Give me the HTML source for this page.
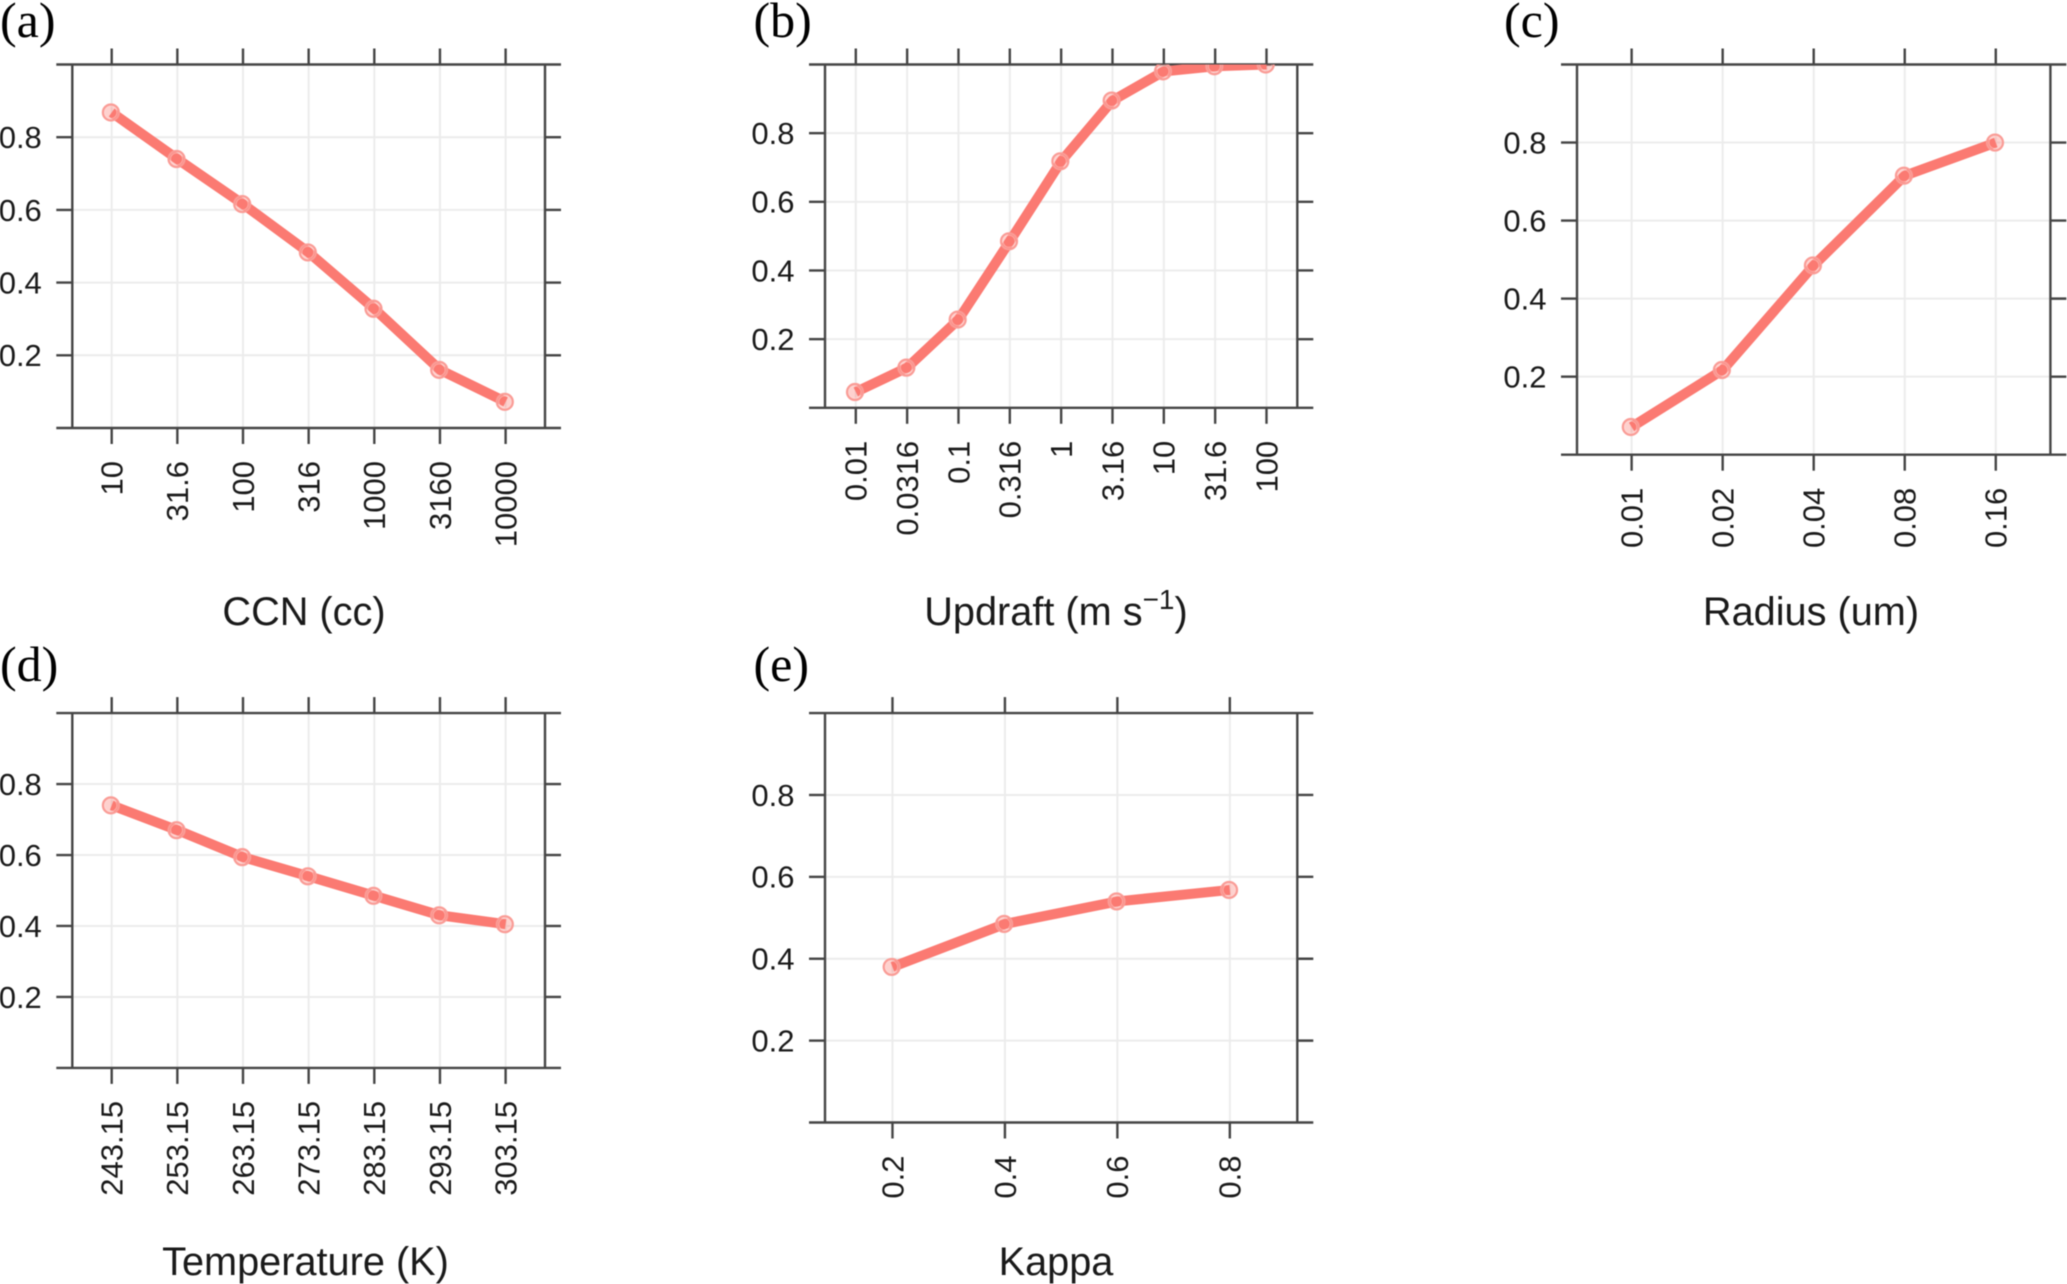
<!DOCTYPE html>
<html lang="en">
<head>
<meta charset="utf-8">
<title>Sensitivity panels</title>
<style>
html,body{margin:0;padding:0;background:#fff;width:2067px;height:1284px;overflow:hidden}
svg{display:block;filter:blur(0.5px)}
.tick{font-family:"Liberation Sans",sans-serif;font-size:31px;fill:#1a1a1a}
.axis-title{font-family:"Liberation Sans",sans-serif;font-size:39.7px;fill:#1a1a1a;text-anchor:middle}
.panel-letter{font-family:"Liberation Serif",serif;font-size:50px;fill:#000}
</style>
</head>
<body>
<svg id="figure" xmlns="http://www.w3.org/2000/svg" width="2067" height="1284" viewBox="0 0 2067 1284">
  <rect width="2067" height="1284" fill="#fff"/>
  <text class="panel-letter" x="0" y="37">(a)</text>
  <text class="panel-letter" x="753.5" y="37">(b)</text>
  <text class="panel-letter" x="1504" y="37">(c)</text>
  <text class="panel-letter" x="0" y="681">(d)</text>
  <text class="panel-letter" x="753.5" y="681">(e)</text>
  <text class="axis-title" x="304" y="625">CCN (cc)</text>
  <text class="axis-title" x="1056" y="625">Updraft (m s<tspan font-size="28" dy="-16">−1</tspan><tspan dy="16">)</tspan></text>
  <text class="axis-title" x="1811" y="625">Radius (um)</text>
  <text class="axis-title" x="305.5" y="1275">Temperature (K)</text>
  <text class="axis-title" x="1056" y="1275">Kappa</text>
</svg>
<script>
// ---- chart data ----
var yTickValues = [0.2, 0.4, 0.6, 0.8];
var yTickLabels = ["0.2", "0.4", "0.6", "0.8"];

var ccnCategories = ["10", "31.6", "100", "316", "1000", "3160", "10000"];
var ccnValues = [0.868, 0.74, 0.616, 0.483, 0.328, 0.16, 0.072];

var updraftCategories = ["0.01", "0.0316", "0.1", "0.316", "1", "3.16", "10", "31.6", "100"];
var updraftValues = [0.046, 0.117, 0.257, 0.485, 0.718, 0.895, 0.98, 0.995, 1.0];

var radiusCategories = ["0.01", "0.02", "0.04", "0.08", "0.16"];
var radiusValues = [0.071, 0.217, 0.485, 0.715, 0.80];

var temperatureCategories = ["243.15", "253.15", "263.15", "273.15", "283.15", "293.15", "303.15"];
var temperatureValues = [0.74, 0.67, 0.594, 0.54, 0.485, 0.43, 0.405];

var kappaCategories = ["0.2", "0.4", "0.6", "0.8"];
var kappaValues = [0.38, 0.485, 0.54, 0.568];

// ---- drawing ----
var NS = "http://www.w3.org/2000/svg";
var fig = document.getElementById("figure");
var AXIS = "#454545", GRID = "#ececec", LINE = "#fb7a72";

function mk(parent, tag, attrs) {
  var el = document.createElementNS(NS, tag);
  for (var k in attrs) el.setAttribute(k, attrs[k]);
  parent.appendChild(el);
  return el;
}

function drawPanel(id, box, categories, values) {
  var left = box.left, right = box.right, top = box.top, bottom = box.bottom;
  var n = categories.length;
  // axis functions
  function xScale(i) { return left + (i + 0.6) / (n + 0.2) * (right - left); }
  function yScale(v) { return bottom - v * (bottom - top); }

  var g = mk(fig, "g", {});
  
  

  var clip = mk(g, "clipPath", { id: "clip-" + id });
  mk(clip, "rect", { x: left, y: top, width: right - left, height: bottom - top });

  // grid
  categories.forEach(function (c, i) {
    var x = xScale(i);
    var gl = mk(g, "line", { x1: x, x2: x, y1: top, y2: bottom, stroke: GRID, "stroke-width": 2 });
    
    
  });
  yTickValues.forEach(function (v) {
    var y = yScale(v);
    var gl = mk(g, "line", { x1: left, x2: right, y1: y, y2: y, stroke: GRID, "stroke-width": 2 });
    
    
  });

  // frame: horizontal rails overhang the vertical sides
  [top, bottom].forEach(function (y) {
    var r = mk(g, "line", { x1: left - 16, x2: right + 16, y1: y, y2: y, stroke: AXIS, "stroke-width": 2.4 });
    
    
  });
  [left, right].forEach(function (x) {
    var r = mk(g, "line", { x1: x, x2: x, y1: top, y2: bottom, stroke: AXIS, "stroke-width": 2.4 });
    
    
  });

  // x ticks and labels
  categories.forEach(function (c, i) {
    var x = xScale(i);
    var t1 = mk(g, "line", { x1: x, x2: x, y1: top - 16, y2: top, stroke: AXIS, "stroke-width": 2.4 });
    
    
    var t2 = mk(g, "line", { x1: x, x2: x, y1: bottom, y2: bottom + 16, stroke: AXIS, "stroke-width": 2.4 });
    
    
    var ly = bottom + 33;
    var lab = mk(g, "text", { "class": "tick", x: x, y: ly, dy: "0.35em", "text-anchor": "end", transform: "rotate(-90 " + x + " " + ly + ")" });
    lab.textContent = c;
    
    
  });

  // y ticks and labels
  yTickValues.forEach(function (v, i) {
    var y = yScale(v);
    var t1 = mk(g, "line", { x1: left - 16, x2: left, y1: y, y2: y, stroke: AXIS, "stroke-width": 2.4 });
    
    
    var t2 = mk(g, "line", { x1: right, x2: right + 16, y1: y, y2: y, stroke: AXIS, "stroke-width": 2.4 });
    
    
    var lab = mk(g, "text", { "class": "tick", x: left - 30.5, y: y, dy: "0.35em", "text-anchor": "end" });
    lab.textContent = yTickLabels[i];
    
    
  });

  // series
  var plot = mk(g, "g", { "clip-path": "url(#clip-" + id + ")" });
  
  
  var pts = values.map(function (v, i) { return xScale(i).toFixed(2) + "," + yScale(v).toFixed(2); }).join(" ");
  var pl = mk(plot, "polyline", { points: pts, fill: "none", stroke: LINE, "stroke-width": 10, "stroke-linejoin": "round" });
  
  
  values.forEach(function (v, i) {
    var cx = xScale(i) - 0.8, cy = yScale(v);
    var outer = mk(plot, "circle", { cx: cx, cy: cy, r: 8, fill: "rgba(251,122,114,0.35)", stroke: "#fa9c96", "stroke-width": 2.2 });
    
    
    var inner = mk(plot, "circle", { cx: cx, cy: cy, r: 6, fill: "none", stroke: "#ffd9d6", "stroke-width": 1, "stroke-opacity": 0.55 });
    
    
  });
}

drawPanel("a", { left: 72.3, right: 545, top: 64.5, bottom: 428 }, ccnCategories, ccnValues);
drawPanel("b", { left: 825, right: 1297.3, top: 64.5, bottom: 407.8 }, updraftCategories, updraftValues);
drawPanel("c", { left: 1577, right: 2050.4, top: 64.5, bottom: 454.7 }, radiusCategories, radiusValues);
drawPanel("d", { left: 72.3, right: 545, top: 713.1, bottom: 1067.9 }, temperatureCategories, temperatureValues);
drawPanel("e", { left: 825, right: 1297.3, top: 713.1, bottom: 1122.5 }, kappaCategories, kappaValues);
</script>
</body>
</html>
